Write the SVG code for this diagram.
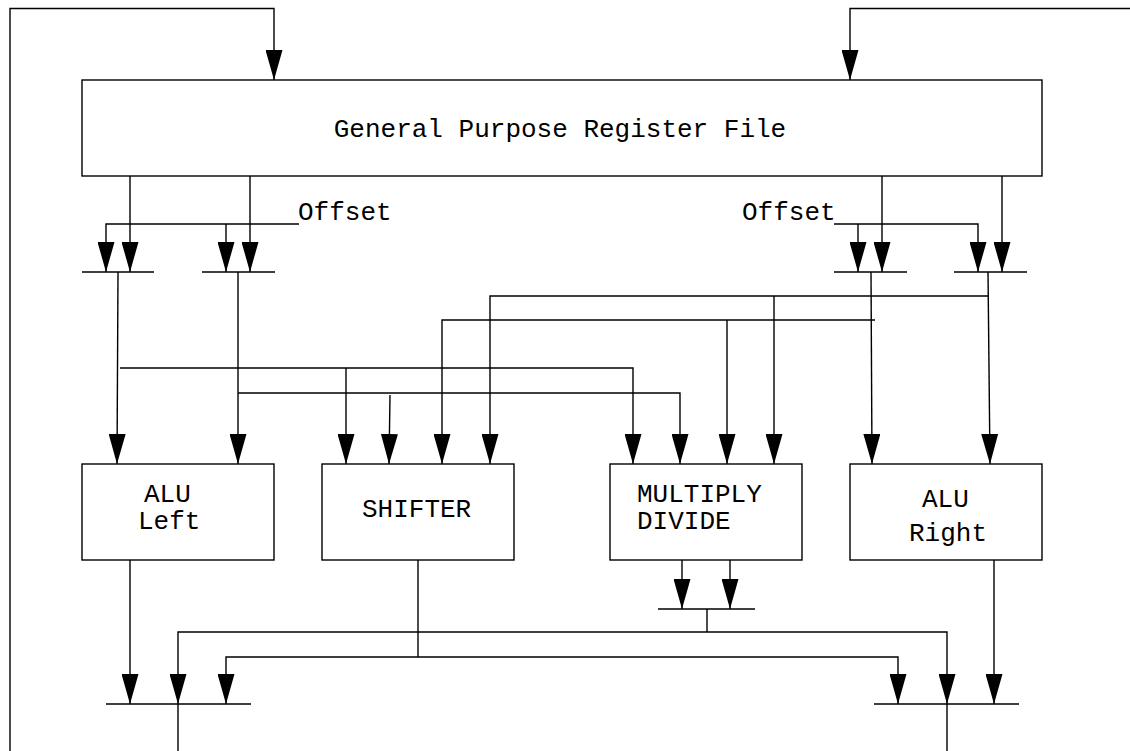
<svg xmlns="http://www.w3.org/2000/svg" width="1130" height="751" viewBox="0 0 1130 751">
  <style>
    .box { fill: #fff; stroke: #000; stroke-width: 1.4; }
    .wire { fill: none; stroke: #000; stroke-width: 1.4; }
    .arr { fill: none; stroke: #000; stroke-width: 1.4; marker-end: url(#head); }
    .lbl { font-family: "Liberation Mono", "DejaVu Sans Mono", monospace; font-size: 26px; fill: #000; }
  </style>
  <defs>
    <marker id="head" viewBox="0 0 30 17" refX="30" refY="8.5" markerWidth="30" markerHeight="17" markerUnits="userSpaceOnUse" orient="auto">
      <path d="M0,0 L30,8.5 L0,17 z" fill="#000"/>
    </marker>
  </defs>
  <rect width="1130" height="751" fill="#fff"/>

  <g id="connectors">
    <!-- feedback loops into the register file -->
    <path class="arr" d="M10,751 V8.5 H274 V80"/>
    <path class="arr" d="M1130,8.5 H850 V80"/>

    <!-- left operand selectors -->
    <path class="arr" d="M130,176 V272"/>
    <path class="arr" d="M250,176 V272"/>
    <path class="arr" d="M299,224 H106 V272"/>
    <path class="arr" d="M226,224 V272"/>
    <path class="wire" d="M82,272 H154 M202,272 H275"/>

    <!-- right operand selectors -->
    <path class="arr" d="M834,224 H978 V272"/>
    <path class="arr" d="M858,224 V272"/>
    <path class="arr" d="M882,176 V272"/>
    <path class="arr" d="M1002,176 V272"/>
    <path class="wire" d="M834,272 H907 M954,272 H1027"/>

    <!-- operand buses to the functional units -->
    <path class="arr" d="M118,272 L117,464"/>
    <path class="arr" d="M238,272 V464"/>
    <path class="arr" d="M120,368 H633 V464"/>
    <path class="arr" d="M346,368 V464"/>
    <path class="arr" d="M238,393 H680 V464"/>
    <path class="arr" d="M390,395 L389,464"/>
    <path class="arr" d="M871,272 L872,464"/>
    <path class="arr" d="M988,272 L990,464"/>
    <path class="arr" d="M988,296 H490 V464"/>
    <path class="arr" d="M774,296 V464"/>
    <path class="arr" d="M875,320 H442 V464"/>
    <path class="arr" d="M727,320 V464"/>

    <!-- result paths -->
    <path class="arr" d="M130,560 V704"/>
    <path class="wire" d="M418,560 V657"/>
    <path class="arr" d="M418,657 H226 V704"/>
    <path class="arr" d="M418,657 H898 V704"/>
    <path class="arr" d="M682,560 V609"/>
    <path class="arr" d="M730,560 V609"/>
    <path class="wire" d="M658,609 H755"/>
    <path class="wire" d="M707,609 V632"/>
    <path class="arr" d="M707,632 H178 V704"/>
    <path class="arr" d="M707,632 H947 V704"/>
    <path class="arr" d="M994,560 V704"/>
    <path class="wire" d="M106,704 H251 M874,704 H1019"/>
    <path class="wire" d="M178,704 V751 M947,704 V751"/>
  </g>

  <g id="offset-left">
    <text class="lbl" x="298" y="220">Offset</text>
  </g>
  <g id="offset-right">
    <text class="lbl" x="742" y="220">Offset</text>
  </g>

  <g id="register-file">
    <rect class="box" x="82" y="80" width="960" height="96"/>
    <text class="lbl" x="560" y="137" text-anchor="middle">General Purpose Register File</text>
  </g>

  <g id="alu-left">
    <rect class="box" x="82" y="464" width="192" height="96"/>
    <text class="lbl" x="144" y="502">ALU</text>
    <text class="lbl" x="138" y="529">Left</text>
  </g>

  <g id="shifter">
    <rect class="box" x="322" y="464" width="192" height="96"/>
    <text class="lbl" x="362" y="517">SHIFTER</text>
  </g>

  <g id="multiply-divide">
    <rect class="box" x="610" y="464" width="192" height="96"/>
    <text class="lbl" x="637" y="502">MULTIPLY</text>
    <text class="lbl" x="637" y="529">DIVIDE</text>
  </g>

  <g id="alu-right">
    <rect class="box" x="850" y="464" width="192" height="96"/>
    <text class="lbl" x="922" y="507">ALU</text>
    <text class="lbl" x="909" y="541">Right</text>
  </g>
</svg>
